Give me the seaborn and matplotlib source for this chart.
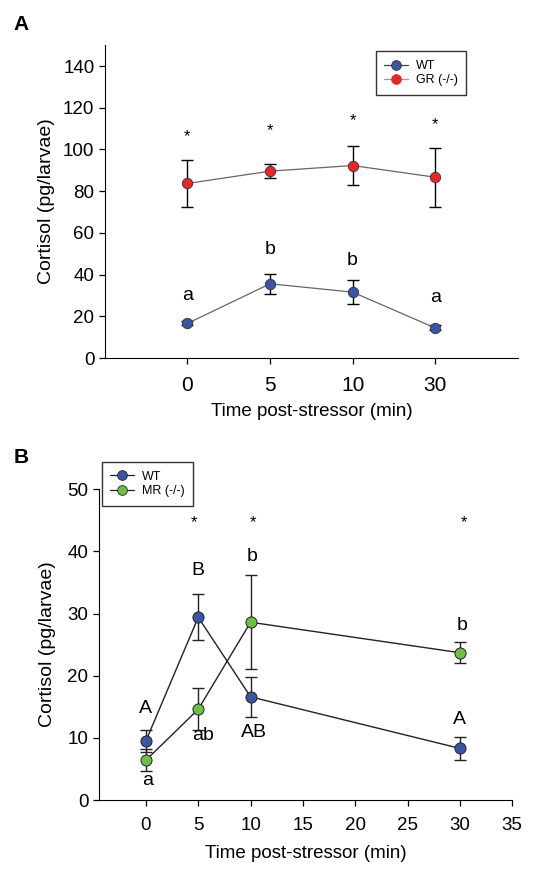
import matplotlib
matplotlib.use("Agg")
import matplotlib.pyplot as plt
import numpy as np
import pandas as pd
import seaborn as sns
from matplotlib.lines import Line2D

# Panel A data (categorical time points)
times_a = ["0", "5", "10", "30"]
wt_a = [16.6, 35.6, 31.6, 14.4]
wt_a_err = [1.0, 4.8, 5.9, 1.2]
gr_a = [83.7, 89.6, 92.3, 86.7]
gr_a_err = [11.2, 3.3, 9.3, 14.1]
stars_a_y = [106, 109, 114, 112]
letters_a = ["a", "b", "b", "a"]
letters_a_y = [30, 52, 47, 29]

# Panel B data (numeric time)
times_b = [0, 5, 10, 30]
wt_b = [9.5, 29.4, 16.6, 8.3]
wt_b_err = [1.8, 3.7, 3.2, 1.9]
mr_b = [6.4, 14.6, 28.6, 23.7]
mr_b_err = [1.75, 3.4, 7.6, 1.65]
stars_b_x = [4.6, 10.2, 30.4]
stars_b_y = [44.7, 44.7, 44.7]
upper_labels_b = ["A", "B", "AB", "A"]
upper_b_x = [0, 5, 10.3, 30]
upper_b_y = [14.7, 37.0, 10.9, 13.0]
lower_labels_b = ["a", "ab", "b", "b"]
lower_b_x = [0.2, 5.5, 10.1, 30.2]
lower_b_y = [3.1, 10.3, 39.1, 28.0]

blue = "#3b55a5"
red = "#e8262a"
green = "#6cbf47"

sns.set_style("ticks")
plt.rcParams["font.family"] = ["Liberation Sans", "DejaVu Sans"]
plt.rcParams["text.color"] = "black"
plt.rcParams["axes.labelcolor"] = "black"
plt.rcParams["xtick.color"] = "black"
plt.rcParams["ytick.color"] = "black"
plt.rcParams["axes.edgecolor"] = "black"

fig = plt.figure(figsize=(5.52, 8.69), dpi=100)
ax_a = fig.add_axes([0.190, 0.588, 0.748, 0.360])
ax_b = fig.add_axes([0.179, 0.0794, 0.749, 0.3576])

# ---- Panel A ----
df_a = pd.DataFrame({
    "pos": list(range(len(times_a))) * 2,
    "cortisol": wt_a + gr_a,
    "err": wt_a_err + gr_a_err,
    "group": ["WT"] * 4 + ["GR (-/-)"] * 4,
})
for grp, col in [("WT", blue), ("GR (-/-)", red)]:
    sub = df_a[df_a["group"] == grp]
    ax_a.errorbar(sub["pos"], sub["cortisol"], yerr=sub["err"], fmt="none",
                  ecolor="black", elinewidth=1.0, capsize=4, capthick=1.0, zorder=2)
    sns.lineplot(data=sub, x="pos", y="cortisol", ax=ax_a, color="#666666",
                 linewidth=0.9, marker="o", markersize=7.5, markerfacecolor=col,
                 markeredgecolor="#333333", markeredgewidth=0.6, zorder=3)

for i in range(4):
    ax_a.text(i, stars_a_y[i], "*", ha="center", va="center", fontsize=12)
    ax_a.text(i, letters_a_y[i], letters_a[i], ha="center", va="center", fontsize=14)

ax_a.set_xlim(-1, 4)
ax_a.set_ylim(0, 150)
ax_a.set_xticks(range(4))
ax_a.set_xticklabels(times_a, fontsize=15)
ax_a.set_yticks(np.arange(0, 141, 20))
ax_a.tick_params(axis="y", labelsize=13.5, length=4, width=0.9)
ax_a.tick_params(axis="x", length=4, width=0.9, pad=9)
ax_a.set_xlabel("Time post-stressor (min)", fontsize=13.5, labelpad=6)
ax_a.set_ylabel("Cortisol (pg/larvae)", fontsize=14, labelpad=6)
sns.despine(ax=ax_a)

handles_a = [
    Line2D([], [], color="#444444", lw=0.9, marker="o", markersize=7,
           markerfacecolor=blue, markeredgecolor="#333333", markeredgewidth=0.6),
    Line2D([], [], color="#999999", lw=0.9, marker="o", markersize=7,
           markerfacecolor=red, markeredgecolor=red, markeredgewidth=0.6),
]
leg_a = ax_a.legend(handles_a, ["WT", "GR (-/-)"], loc="upper left",
                    bbox_to_anchor=(0.656, 0.981), borderaxespad=0,
                    fontsize=9, frameon=True, fancybox=False, edgecolor="black",
                    handlelength=1.9, borderpad=0.7, labelspacing=0.2,
                    handletextpad=0.6)
leg_a.get_frame().set_linewidth(1.0)

# ---- Panel B ----
df_b = pd.DataFrame({
    "time": times_b * 2,
    "cortisol": wt_b + mr_b,
    "err": wt_b_err + mr_b_err,
    "group": ["WT"] * 4 + ["MR (-/-)"] * 4,
})
for grp, col in [("WT", blue), ("MR (-/-)", green)]:
    sub = df_b[df_b["group"] == grp]
    ax_b.errorbar(sub["time"], sub["cortisol"], yerr=sub["err"], fmt="none",
                  ecolor="#222222", elinewidth=1.0, capsize=4, capthick=1.0, zorder=2)
    sns.lineplot(data=sub, x="time", y="cortisol", ax=ax_b, color="#222222",
                 linewidth=1.0, marker="o", markersize=8, markerfacecolor=col,
                 markeredgecolor="#222222", markeredgewidth=0.7, zorder=3)

for x, y in zip(stars_b_x, stars_b_y):
    ax_b.text(x, y, "*", ha="center", va="center", fontsize=12)
for lab, x, y in zip(upper_labels_b, upper_b_x, upper_b_y):
    ax_b.text(x, y, lab, ha="center", va="center", fontsize=14)
for lab, x, y in zip(lower_labels_b, lower_b_x, lower_b_y):
    ax_b.text(x, y, lab, ha="center", va="center", fontsize=14)

ax_b.set_xlim(-4.5, 35)
ax_b.set_ylim(0, 50)
ax_b.set_xticks(np.arange(0, 36, 5))
ax_b.set_yticks(np.arange(0, 51, 10))
ax_b.tick_params(axis="both", labelsize=13.5, length=4, width=0.9)
ax_b.tick_params(axis="x", pad=8)
ax_b.set_xlabel("Time post-stressor (min)", fontsize=13.5, labelpad=8)
ax_b.set_ylabel("Cortisol (pg/larvae)", fontsize=14, labelpad=8)
sns.despine(ax=ax_b)

handles_b = [
    Line2D([], [], color="#222222", lw=0.9, marker="o", markersize=7,
           markerfacecolor=blue, markeredgecolor="#222222", markeredgewidth=0.6),
    Line2D([], [], color="#222222", lw=0.9, marker="o", markersize=7,
           markerfacecolor=green, markeredgecolor="#222222", markeredgewidth=0.6),
]
leg_b = ax_b.legend(handles_b, ["WT", "MR (-/-)"], loc="upper left",
                    bbox_to_anchor=(0.007, 1.088), borderaxespad=0,
                    fontsize=9, frameon=True, fancybox=False, edgecolor="black",
                    handlelength=1.9, borderpad=0.7, labelspacing=0.2,
                    handletextpad=0.6)
leg_b.get_frame().set_linewidth(1.0)

fig.text(0.025, 0.972, "A", fontsize=15, fontweight="bold", va="center")
fig.text(0.025, 0.473, "B", fontsize=15, fontweight="bold", va="center")

fig.savefig("out.png", dpi=100, facecolor="white")
